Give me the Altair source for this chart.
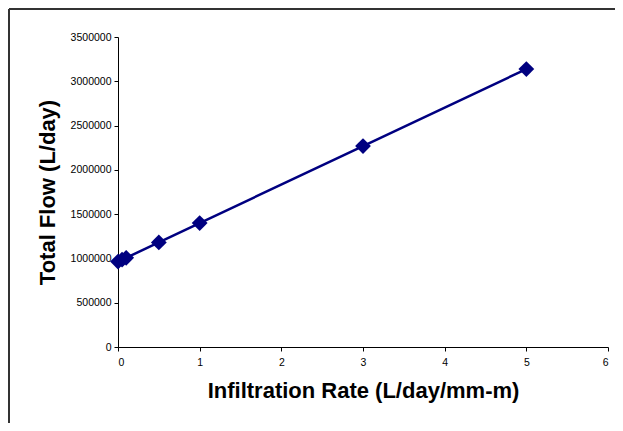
import altair as alt
import pandas as pd

rate = [0, 0.05, 0.1, 0.5, 1, 3, 5]
flow = [964000, 986000, 1007000, 1181000, 1399000, 2269000, 3138000]

df = pd.DataFrame({"rate": rate, "flow": flow})

W, H = 490, 310
PL, PT, PR, PB = 110, 29, 7, 76
FONT = "Liberation Sans"
NAVY = "#000080"

x = alt.X("rate:Q", scale=alt.Scale(domain=[0, 6], nice=False),
          axis=alt.Axis(title="Infiltration Rate (L/day/mm-m)", values=[0, 1, 2, 3, 4, 5, 6],
                        format="d", grid=False, domainColor="black", tickColor="black",
                        tickSize=4, labelPadding=6, labelFontSize=10.5, labelColor="black",
                        labelFont=FONT, titleFont=FONT, titleFontSize=22, titleFontWeight="bold",
                        titleColor="black", titlePadding=13))
y = alt.Y("flow:Q", scale=alt.Scale(domain=[0, 3500000], nice=False),
          axis=alt.Axis(title="Total Flow (L/day)", values=[0, 500000, 1000000, 1500000, 2000000,
                                                             2500000, 3000000, 3500000],
                        format="d", grid=False, domainColor="black", tickColor="black",
                        tickSize=4, labelPadding=3, labelFontSize=10.5, labelColor="black",
                        labelFont=FONT, titleFont=FONT, titleFontSize=22, titleFontWeight="bold",
                        titleColor="black", titlePadding=11))

line = alt.Chart(df).mark_line(color=NAVY, strokeWidth=2.5).encode(x=x, y=y)
pts = alt.Chart(df).mark_point(shape="diamond", filled=True, color=NAVY, opacity=1, size=250).encode(x=x, y=y)

one = pd.DataFrame({"a": [0]})
left_edge = alt.Chart(one).mark_rule(color="#333333", strokeWidth=2).encode(
    x=alt.value(-PL + 1), y=alt.value(-PT + 1), y2=alt.value(H + 150))
top_edge = alt.Chart(one).mark_rule(color="#333333", strokeWidth=2).encode(
    x=alt.value(-PL + 1), x2=alt.value(W + PR), y=alt.value(-PT + 1))

chart = alt.layer(left_edge, top_edge, line, pts).properties(
    width=W, height=H,
    autosize=alt.AutoSizeParams(type="none"),
    padding={"left": PL, "top": PT, "right": PR, "bottom": PB},
    background="white",
).configure_view(stroke=None)

chart.save("out.html", embed_options={"renderer": "svg", "actions": False})
